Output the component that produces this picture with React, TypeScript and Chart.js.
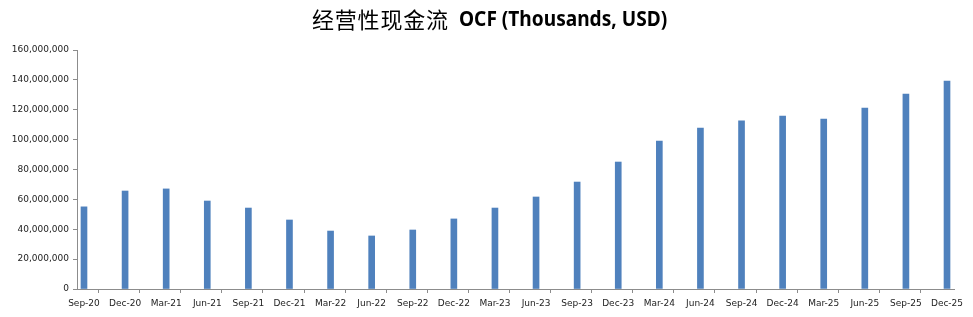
import React, { useEffect, useRef } from "react";
import { Chart, registerables } from "chart.js";

Chart.register(...registerables);

const TITLE_CN = "经营性现金流";
const TITLE_EN = "OCF (Thousands, USD)";

const categories = [
  "Sep-20", "Dec-20", "Mar-21", "Jun-21", "Sep-21", "Dec-21", "Mar-22", "Jun-22",
  "Sep-22", "Dec-22", "Mar-23", "Jun-23", "Sep-23", "Dec-23", "Mar-24", "Jun-24",
  "Sep-24", "Dec-24", "Mar-25", "Jun-25", "Sep-25", "Dec-25",
];

const ocfValues = [
  55000000, 65600000, 67000000, 58900000, 54200000, 46200000, 38800000, 35500000,
  39500000, 46900000, 54200000, 61600000, 71600000, 85000000, 99100000, 107800000,
  112500000, 115800000, 113800000, 121200000, 130500000, 139200000,
];

const yMin = 0;
const yMax = 160000000;
const yStep = 20000000;

export default function App() {
  const ref = useRef<HTMLCanvasElement | null>(null);

  useEffect(() => {
    if (!ref.current) return;
    const axisColor = "#8c8c8c";
    const tickFont = { family: "'DejaVu Sans', sans-serif", size: 9 };
    const n = categories.length;
    const edge = 0.17;
    const tickShift = 0.146;
    const chart = new Chart(ref.current, {
      type: "bar",
      data: {
        datasets: [
          {
            label: "OCF",
            data: ocfValues.map((v, i) => ({ x: i, y: v })),
            backgroundColor: "#4F81BD",
            borderWidth: 0,
            barThickness: 6,
          },
        ],
      },
      options: {
        animation: false,
        responsive: false,
        maintainAspectRatio: false,
        layout: { padding: { left: 0, right: 19, top: 50, bottom: 0 } },
        plugins: {
          legend: { display: false },
          tooltip: { enabled: false },
          title: { display: false },
        },
        scales: {
          x: {
            type: "linear",
            min: -edge,
            max: n - 1 + edge,
            offset: false,
            afterBuildTicks: (scale: any) => {
              scale.ticks = categories.map((_, i) => ({ value: i - tickShift }));
            },
            grid: {
              display: true,
              drawOnChartArea: false,
              drawTicks: true,
              tickLength: 4,
              color: axisColor,
            },
            border: { display: true, color: axisColor, width: 1 },
            ticks: {
              color: "#222",
              font: tickFont,
              maxRotation: 0,
              autoSkip: false,
              padding: 5,
              labelOffset: 6,
              callback: (_v: any, index: number) => categories[index],
            },
            afterFit: (scale: any) => {
              scale.height = 28;
            },
          },
          y: {
            min: yMin,
            max: yMax,
            grid: {
              display: true,
              drawOnChartArea: false,
              drawTicks: true,
              tickLength: 4,
              color: axisColor,
            },
            border: { display: true, color: axisColor, width: 1 },
            ticks: {
              stepSize: yStep,
              color: "#222",
              font: tickFont,
              padding: 4,
              callback: (v: any) => Number(v).toLocaleString("en-US"),
            },
            afterFit: (scale: any) => {
              scale.width = 77;
            },
          },
        },
      },
    });
    return () => chart.destroy();
  }, []);

  return (
    <div style={{ position: "fixed", left: 0, top: 0, width: 973, height: 317, background: "#fff" }}>
      <canvas ref={ref} width={973} height={317} style={{ width: 973, height: 317, display: "block" }} />
      <div
        style={{
          position: "absolute",
          left: 312,
          top: 4,
          whiteSpace: "nowrap",
          lineHeight: "28px",
          color: "#000",
          fontFamily: "'Noto Sans CJK SC', sans-serif",
          fontWeight: 400,
          fontSize: 22,
          letterSpacing: 0.8,
        }}
      >
        {TITLE_CN}
      </div>
      <div
        style={{
          position: "absolute",
          left: 459,
          top: 4,
          whiteSpace: "nowrap",
          lineHeight: "28px",
          color: "#000",
          fontFamily: "'Noto Sans', sans-serif",
          fontWeight: 700,
          fontSize: 21,
          transform: "scaleX(0.91)",
          transformOrigin: "left center",
        }}
      >
        {TITLE_EN}
      </div>
    </div>
  );
}
